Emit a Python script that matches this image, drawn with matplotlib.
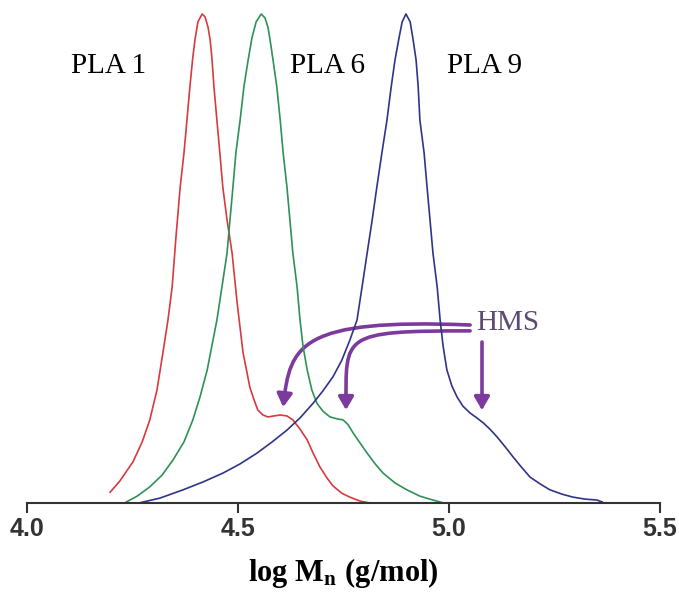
import numpy as np
import matplotlib.pyplot as plt
from matplotlib.patches import FancyArrowPatch
from matplotlib.path import Path

plt.rcParams['mathtext.fontset'] = 'stix'

# GPC traces (log Mn, normalised signal)
pla1_x = [4.197, 4.220, 4.251, 4.273, 4.291, 4.308, 4.322, 4.334, 4.344, 4.353,
          4.363, 4.372, 4.379, 4.386, 4.393, 4.398, 4.405, 4.415, 4.422, 4.429,
          4.434, 4.438, 4.443, 4.450, 4.457, 4.464, 4.474, 4.486, 4.498, 4.512,
          4.521, 4.528, 4.538, 4.547, 4.559, 4.571, 4.585, 4.600, 4.616, 4.630,
          4.647, 4.664, 4.678, 4.694, 4.711, 4.725, 4.746, 4.765, 4.789, 4.813]
pla1_y = [0.022, 0.045, 0.084, 0.125, 0.170, 0.231, 0.307, 0.374, 0.442, 0.544,
          0.646, 0.716, 0.783, 0.851, 0.912, 0.947, 0.984, 1.000, 0.994, 0.973,
          0.947, 0.912, 0.851, 0.783, 0.716, 0.646, 0.579, 0.511, 0.409, 0.307,
          0.268, 0.237, 0.211, 0.190, 0.180, 0.176, 0.178, 0.180, 0.178, 0.170,
          0.151, 0.129, 0.102, 0.074, 0.051, 0.035, 0.020, 0.012, 0.004, 0.000]

pla6_x = [4.235, 4.261, 4.291, 4.320, 4.346, 4.372, 4.393, 4.410, 4.427, 4.438,
          4.450, 4.462, 4.474, 4.481, 4.488, 4.495, 4.505, 4.514, 4.524, 4.533,
          4.543, 4.555, 4.564, 4.571, 4.576, 4.583, 4.592, 4.600, 4.607, 4.616,
          4.623, 4.630, 4.640, 4.647, 4.654, 4.664, 4.675, 4.687, 4.701, 4.718,
          4.735, 4.749, 4.761, 4.773, 4.789, 4.806, 4.825, 4.844, 4.872, 4.900,
          4.931, 4.962, 4.988]
pla6_y = [0.002, 0.014, 0.033, 0.057, 0.088, 0.125, 0.170, 0.217, 0.272, 0.321,
          0.374, 0.442, 0.511, 0.579, 0.646, 0.716, 0.783, 0.851, 0.906, 0.951,
          0.984, 1.000, 0.992, 0.973, 0.947, 0.906, 0.851, 0.783, 0.716, 0.646,
          0.579, 0.511, 0.442, 0.374, 0.321, 0.272, 0.231, 0.204, 0.188, 0.176,
          0.172, 0.170, 0.160, 0.143, 0.123, 0.102, 0.080, 0.061, 0.041, 0.027,
          0.014, 0.006, 0.000]

pla9_x = [4.265, 4.315, 4.370, 4.417, 4.464, 4.505, 4.545, 4.581, 4.616, 4.647,
          4.678, 4.701, 4.725, 4.746, 4.765, 4.782, 4.794, 4.806, 4.818, 4.829,
          4.841, 4.853, 4.863, 4.872, 4.882, 4.889, 4.898, 4.908, 4.915, 4.922,
          4.927, 4.931, 4.941, 4.948, 4.955, 4.962, 4.972, 4.979, 4.986, 4.995,
          5.007, 5.019, 5.033, 5.050, 5.066, 5.081, 5.097, 5.114, 5.133, 5.152,
          5.171, 5.192, 5.216, 5.239, 5.268, 5.294, 5.322, 5.351, 5.363]
pla9_y = [0.000, 0.010, 0.027, 0.043, 0.061, 0.080, 0.102, 0.125, 0.149, 0.174,
          0.204, 0.229, 0.258, 0.292, 0.333, 0.374, 0.442, 0.511, 0.579, 0.646,
          0.716, 0.783, 0.851, 0.906, 0.953, 0.984, 1.000, 0.984, 0.947, 0.906,
          0.851, 0.783, 0.716, 0.646, 0.579, 0.511, 0.442, 0.374, 0.321, 0.272,
          0.239, 0.217, 0.198, 0.184, 0.174, 0.164, 0.151, 0.135, 0.115, 0.094,
          0.074, 0.053, 0.039, 0.027, 0.018, 0.012, 0.008, 0.006, 0.002]

labels = ['PLA 1', 'PLA 6', 'PLA 9']
label_x = [4.194, 4.713, 5.085]
label_y = 0.894
colors = ['#d9393f', '#2e9155', '#2f3488']

# HMS arrows as bezier control points (data coords)
hms_text = (5.140, 0.368)
arrow_paths = [
    [(5.050, 0.364), (4.647, 0.378), (4.623, 0.323), (4.607, 0.196)],
    [(5.050, 0.352), (4.742, 0.352), (4.756, 0.344), (4.756, 0.190)],
    [(5.078, 0.329), (5.078, 0.190)],
]
purple = '#7c3a9c'

fig = plt.figure(figsize=(6.79, 5.92), dpi=100)
ax = fig.add_axes([27/679, 89/592, 633/679, 489/592])

for xs, ys, c in zip([pla1_x, pla6_x, pla9_x], [pla1_y, pla6_y, pla9_y], colors):
    ax.plot(xs, ys, c=c, lw=1.2, clip_on=False, solid_joinstyle='round')

for t, x in zip(labels, label_x):
    ax.text(x, label_y, t, ha='center', va='center', fontsize=21,
            family='Liberation Serif', color='black')

ax.text(*hms_text, 'HMS', ha='center', va='center', fontsize=21,
        family='Liberation Serif', color='#5c4a70')

for verts in arrow_paths:
    if len(verts) == 4:
        codes = [Path.MOVETO, Path.CURVE4, Path.CURVE4, Path.CURVE4]
    else:
        codes = [Path.MOVETO, Path.LINETO]
    ax.add_patch(FancyArrowPatch(path=Path(verts, codes),
                                 arrowstyle='-|>,head_length=0.6,head_width=0.35',
                                 mutation_scale=13, lw=2.6, color=purple,
                                 joinstyle='round'))

ax.set_xlim(4.0, 5.5)
ax.set_ylim(0, 1)
ax.set_xticks([4.0, 4.5, 5.0, 5.5])
ax.set_xticklabels(['4.0', '4.5', '5.0', '5.5'], fontsize=18, fontweight='bold',
                   family='Liberation Sans', color='#333333')
ax.set_yticks([])
for s in ['top', 'left', 'right']:
    ax.spines[s].set_visible(False)
ax.spines['bottom'].set_color('#333333')
ax.spines['bottom'].set_linewidth(1.5)
ax.tick_params(axis='x', direction='out', length=7, width=1.5, color='#333333', pad=3)

ax.set_xlabel(r'log M$_\mathbf{n}$ (g/mol)', fontsize=22, fontweight='bold',
              family='Liberation Serif', labelpad=11)

fig.savefig('out.png', dpi=100)
